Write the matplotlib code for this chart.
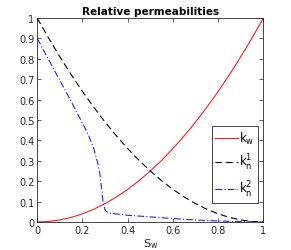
import numpy as np
import matplotlib
matplotlib.use('Agg')
import matplotlib.pyplot as plt

# saturation grid and permeability curves
sw = [0.0, 0.05, 0.1, 0.15, 0.2, 0.25, 0.3, 0.35, 0.4, 0.45, 0.5,
      0.55, 0.6, 0.65, 0.7, 0.75, 0.8, 0.85, 0.9, 0.95, 1.0]
kw = [0.0, 0.0025, 0.01, 0.0225, 0.04, 0.0625, 0.09, 0.1225, 0.16, 0.2025, 0.25,
      0.3025, 0.36, 0.4225, 0.49, 0.5625, 0.64, 0.7225, 0.81, 0.9025, 1.0]
kn1 = [1.0, 0.9025, 0.81, 0.7225, 0.64, 0.5625, 0.49, 0.4225, 0.36, 0.3025, 0.25,
       0.2025, 0.16, 0.1225, 0.09, 0.0625, 0.04, 0.0225, 0.01, 0.0025, 0.0]

sw2 = [0.0, 0.05, 0.1, 0.15, 0.2, 0.225, 0.25, 0.265, 0.277, 0.285, 0.292,
       0.3, 0.307, 0.32, 0.35, 0.4, 0.5, 0.6, 0.7, 0.8, 0.9, 1.0]
kn2 = [0.9, 0.797, 0.694, 0.591, 0.485, 0.43, 0.36, 0.3, 0.235, 0.16, 0.09,
       0.06, 0.05, 0.044, 0.039, 0.033, 0.025, 0.017, 0.01, 0.005, 0.002, 0.0]

fig = plt.figure(figsize=(2.91, 2.51), dpi=100)
ax = fig.add_axes([0.128, 0.1116, 0.777, 0.8124])

ax.plot(sw, kw, color='#ff2020', lw=0.8, label='$\\mathregular{k_w}$')
ax.plot(sw, kn1, color='k', lw=0.8, ls=(0, (6, 3.5)), label='$\\mathregular{k_n^1}$')
ax.plot(sw2, kn2, color='#2020ff', lw=0.8, ls=(0, (6, 2, 1, 2)), label='$\\mathregular{k_n^2}$')

ax.set_xlim(0, 1)
ax.set_ylim(0, 1)
ax.set_xticks([0, 0.2, 0.4, 0.6, 0.8, 1])
ax.set_xticklabels(['0', '0.2', '0.4', '0.6', '0.8', '1'])
ax.set_yticks(np.arange(11) / 10)
ax.set_yticklabels(['0', '0.1', '0.2', '0.3', '0.4', '0.5', '0.6', '0.7', '0.8', '0.9', '1'])
ax.tick_params(direction='in', top=True, right=True, labelsize=7, length=3,
               width=0.5, colors='#262626', pad=2)
for s in ax.spines.values():
    s.set_linewidth(0.6)
    s.set_color('#262626')

ax.set_xlabel('$\\mathregular{S_w}$', fontsize=8, labelpad=1, color='#262626')
ax.set_title('Relative permeabilities', fontsize=7.5, fontweight='bold', pad=3)

leg = ax.legend(loc='upper right', bbox_to_anchor=(0.977, 0.47), fontsize=8.5,
                fancybox=False, edgecolor='#262626', framealpha=1,
                borderaxespad=0, handlelength=1.9, labelspacing=0.55,
                handletextpad=0.15, borderpad=0.3)
leg.get_frame().set_linewidth(0.6)

fig.savefig('out.png', dpi=100)
